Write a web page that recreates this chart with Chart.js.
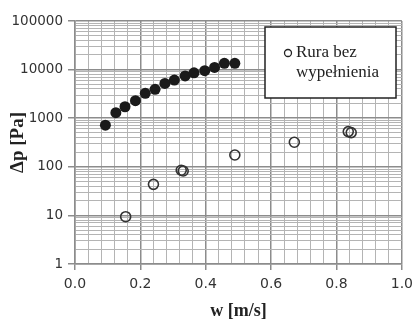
<!DOCTYPE html>
<html>
<head>
<meta charset="utf-8">
<script src="https://cdn.jsdelivr.net/npm/chart.js@4"></script>
<style>
  html, body { margin: 0; padding: 0; background: #fff; }
  #wrap { width: 419px; height: 322px; }
</style>
</head>
<body>
<div id="wrap"><canvas id="myChart"></canvas></div>
<script>
// filled series (no legend entry)
const wFilled = [0.093, 0.125, 0.153, 0.185, 0.215, 0.245, 0.275, 0.304, 0.337, 0.364, 0.397, 0.427, 0.457, 0.489];
const dpFilled = [720, 1300, 1720, 2290, 3250, 3930, 5200, 6100, 7400, 8600, 9500, 11100, 13500, 13500];

// open circles - "Rura bez wypełnienia"
const wEmpty = [0.155, 0.240, 0.325, 0.331, 0.489, 0.671, 0.836, 0.845];
const dpEmpty = [9.4, 43.5, 85, 82, 175, 320, 530, 505];

const legendLines = ['Rura bez', 'wypełnienia'];
const xTitle = 'w [m/s]';
const yTitle = 'Δp [Pa]';

const toPoints = (xs, ys) => xs.map((x, i) => ({ x: x, y: ys[i] }));

// legend box drawn inside the plot
const legendBox = {
    id: 'legendBox',
    afterDraw(chart) {
        const ctx = chart.ctx;
        ctx.save();
        ctx.fillStyle = '#fff';
        ctx.fillRect(265, 27, 131, 71);
        ctx.strokeStyle = '#222';
        ctx.lineWidth = 1.5;
        ctx.strokeRect(265, 27, 131, 71);
        ctx.beginPath();
        ctx.arc(288, 53, 3.5, 0, Math.PI * 2);
        ctx.lineWidth = 1.3;
        ctx.stroke();
        ctx.fillStyle = '#222';
        ctx.font = '17px "Liberation Serif"';
        ctx.textBaseline = 'middle';
        ctx.fillText(legendLines[0], 296, 53);
        ctx.fillText(legendLines[1], 296, 73);
        ctx.restore();
    }
};

const isMajorX = v => Math.abs(v * 5 - Math.round(v * 5)) < 1e-6;
const isDecade = v => Math.abs(Math.log10(v) - Math.round(Math.log10(v))) < 1e-6;

const ctx = document.getElementById('myChart').getContext('2d');
new Chart(ctx, {
    type: 'scatter',
    data: {
        datasets: [{
            label: 'filled',
            data: toPoints(wFilled, dpFilled),
            backgroundColor: '#1a1a1a',
            borderColor: '#1a1a1a',
            pointRadius: 5.5,
            borderWidth: 0
        }, {
            label: legendLines.join(' '),
            data: toPoints(wEmpty, dpEmpty),
            backgroundColor: 'rgba(0,0,0,0)',
            borderColor: '#333',
            pointRadius: 5,
            borderWidth: 1.6
        }]
    },
    options: {
        responsive: true,
        maintainAspectRatio: false,
        animation: false,
        layout: { padding: { top: 21, right: 10, left: 0, bottom: 0 } },
        plugins: {
            legend: { display: false },
            tooltip: { enabled: false }
        },
        scales: {
            x: {
                type: 'linear',
                min: 0,
                max: 1,
                afterFit(scale) { scale.height = 58; },
                afterBuildTicks(scale) {
                    const t = [];
                    for (let i = 0; i <= 25; i++) t.push({ value: i * 0.04 });
                    scale.ticks = t;
                },
                ticks: {
                    autoSkip: false,
                    maxRotation: 0,
                    padding: 6,
                    color: '#333',
                    font: { family: 'DejaVu Sans', size: 14 },
                    callback: v => isMajorX(v) ? v.toFixed(1) : ''
                },
                grid: {
                    color: c => isMajorX(c.tick.value) ? '#8c8c8c' : '#b4b4b4',
                    lineWidth: c => isMajorX(c.tick.value) ? 1.5 : 1,
                    tickColor: c => isMajorX(c.tick.value) ? '#8c8c8c' : 'rgba(0,0,0,0)',
                    tickLength: 6
                },
                border: { color: '#8c8c8c', width: 1.5 },
                title: {
                    display: true,
                    text: xTitle,
                    color: '#222',
                    font: { family: 'Liberation Serif', size: 18, weight: 'bold' },
                    padding: { top: 0, bottom: 0 }
                }
            },
            y: {
                type: 'logarithmic',
                min: 1,
                max: 100000,
                afterFit(scale) { scale.width = 75; },
                afterBuildTicks(scale) {
                    const t = [];
                    for (let d = 1; d < 100000; d *= 10) {
                        for (let k = 1; k <= 9; k++) t.push({ value: d * k });
                    }
                    t.push({ value: 100000 });
                    scale.ticks = t;
                },
                ticks: {
                    autoSkip: false,
                    padding: 5,
                    color: '#333',
                    font: { family: 'DejaVu Sans', size: 13.5 },
                    callback: v => isDecade(v) ? String(Math.round(v)) : ''
                },
                grid: {
                    color: c => isDecade(c.tick.value) ? '#8c8c8c' : '#b4b4b4',
                    lineWidth: c => isDecade(c.tick.value) ? 1.5 : 1,
                    tickColor: c => isDecade(c.tick.value) ? '#8c8c8c' : 'rgba(0,0,0,0)',
                    tickLength: 7
                },
                border: { color: '#8c8c8c', width: 1.5 },
                title: {
                    display: true,
                    text: yTitle,
                    color: '#222',
                    font: { family: 'Liberation Serif', size: 19, weight: 'bold' },
                    padding: { top: 7, bottom: 0 }
                }
            }
        }
    },
    plugins: [legendBox]
});
</script>
</body>
</html>
